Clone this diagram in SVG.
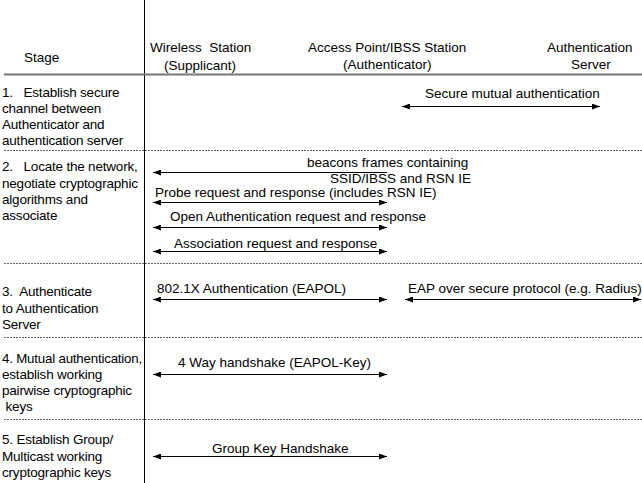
<svg xmlns="http://www.w3.org/2000/svg" width="642" height="483" viewBox="0 0 642 483">
<style>
text{font-family:"Liberation Sans",Arial,sans-serif;font-size:13.5px;fill:#000;white-space:pre}
.st{letter-spacing:-0.2px}
.grid{stroke:#000;stroke-width:1}
.sep{stroke:#666;stroke-width:1;stroke-dasharray:2 1}
.arr{stroke:#000;stroke-width:1;fill:none}
</style>
<defs>
<marker id="ah" viewBox="0 0 8 6" refX="8" refY="3" markerWidth="8" markerHeight="6" markerUnits="userSpaceOnUse" orient="auto-start-reverse">
<path d="M0,0 L8,3 L0,6 z" fill="#000"/>
</marker>
</defs>
<g id="gridlines">
<line class="grid" x1="144.5" y1="0" x2="144.5" y2="483"/>
<line x1="4" y1="74.5" x2="642" y2="74.5" stroke="#777" stroke-width="2"/>
<line class="sep" x1="4" y1="150.5" x2="642" y2="150.5"/>
<line class="sep" x1="4" y1="263.5" x2="642" y2="263.5"/>
<line class="sep" x1="4" y1="337.5" x2="642" y2="337.5"/>
<line class="sep" x1="4" y1="419.5" x2="642" y2="419.5"/>
</g>
<g id="headers">
<text x="24" y="62">Stage</text>
<text x="150" y="52">Wireless  Station</text>
<text x="164" y="70">(Supplicant)</text>
<text x="308" y="52">Access Point/IBSS Station</text>
<text x="343" y="69">(Authenticator)</text>
<text x="547" y="52">Authentication</text>
<text x="571" y="69">Server</text>
</g>
<g id="stage1" class="st">
<text class="st" x="2" y="97">1.   Establish secure</text>
<text class="st" x="2" y="113">channel between</text>
<text class="st" x="2" y="129">Authenticator and</text>
<text class="st" x="2" y="145">authentication server</text>
</g>
<g id="stage2">
<text class="st" x="2" y="171">2.   Locate the network,</text>
<text class="st" x="2" y="188">negotiate cryptographic</text>
<text class="st" x="2" y="204">algorithms and</text>
<text class="st" x="2" y="220">associate</text>
</g>
<g id="stage3">
<text class="st" x="2" y="296">3.  Authenticate</text>
<text class="st" x="2" y="313">to Authentication</text>
<text class="st" x="2" y="329">Server</text>
</g>
<g id="stage4">
<text class="st" x="2" y="363" textLength="140" lengthAdjust="spacingAndGlyphs">4. Mutual authentication,</text>
<text class="st" x="2" y="379">establish working</text>
<text class="st" x="2" y="395">pairwise cryptographic</text>
<text class="st" x="2" y="411"> keys</text>
</g>
<g id="stage5">
<text class="st" x="2" y="444">5. Establish Group/</text>
<text class="st" x="2" y="461">Multicast working</text>
<text class="st" x="2" y="477">cryptographic keys</text>
</g>
<g id="labels">
<text x="425" y="98">Secure mutual authentication</text>
<text x="307" y="167">beacons frames containing</text>
<text x="330" y="183">SSID/IBSS and RSN IE</text>
<text x="155" y="197">Probe request and response (includes RSN IE)</text>
<text x="170" y="221">Open Authentication request and response</text>
<text x="174" y="248">Association request and response</text>
<text x="157" y="293">802.1X Authentication (EAPOL)</text>
<text x="408" y="293">EAP over secure protocol (e.g. Radius)</text>
<text x="178" y="367">4 Way handshake (EAPOL-Key)</text>
<text x="212" y="453">Group Key Handshake</text>
</g>
<g id="connectors">
<line class="arr" x1="402" y1="106.5" x2="600" y2="106.5" marker-start="url(#ah)" marker-end="url(#ah)"/>
<line class="arr" x1="387" y1="172.5" x2="153" y2="172.5" marker-end="url(#ah)"/>
<line class="arr" x1="153" y1="202.5" x2="387" y2="202.5" marker-start="url(#ah)" marker-end="url(#ah)"/>
<line class="arr" x1="153" y1="227.5" x2="387" y2="227.5" marker-start="url(#ah)" marker-end="url(#ah)"/>
<line class="arr" x1="153" y1="251.5" x2="387" y2="251.5" marker-start="url(#ah)" marker-end="url(#ah)"/>
<line class="arr" x1="153" y1="299.5" x2="387" y2="299.5" marker-start="url(#ah)" marker-end="url(#ah)"/>
<line class="arr" x1="405" y1="299.5" x2="641" y2="299.5" marker-start="url(#ah)" marker-end="url(#ah)"/>
<line class="arr" x1="153" y1="374.5" x2="387" y2="374.5" marker-start="url(#ah)" marker-end="url(#ah)"/>
<line class="arr" x1="153" y1="456.5" x2="387" y2="456.5" marker-start="url(#ah)" marker-end="url(#ah)"/>
</g>
</svg>
